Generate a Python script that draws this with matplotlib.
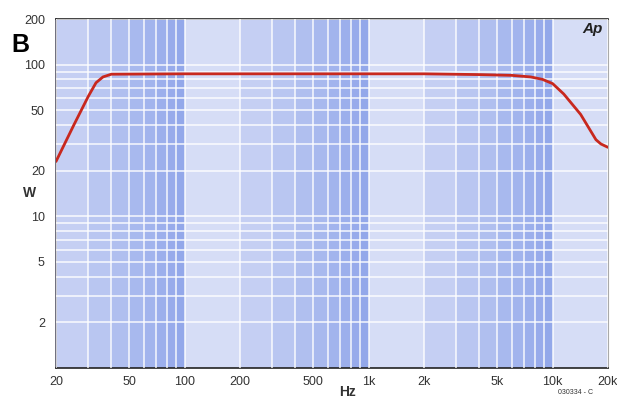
import numpy as np
import matplotlib
matplotlib.use('Agg')
import matplotlib.pyplot as plt
from matplotlib.ticker import FixedLocator, NullFormatter

plt.rcParams['font.family'] = ['Liberation Sans', 'DejaVu Sans']

# curve
freq = [20, 25, 30, 33, 36, 40, 100, 1000, 2000, 4000, 6000, 7600, 8800, 10000, 11500, 14200, 17200, 18300, 20000]
watts = [23, 40, 62, 76, 83, 86.5, 87, 87, 87, 86, 85, 83, 80, 75, 64, 47, 32, 30, 28.5]

x_ticks = [20, 50, 100, 200, 500, 1000, 2000, 5000, 10000, 20000]
x_labels = ['20', '50', '100', '200', '500', '1k', '2k', '5k', '10k', '20k']
y_ticks = [2, 5, 10, 20, 50, 100, 200]
y_labels = ['2', '5', '10', '20', '50', '100', '200']

fig = plt.figure(figsize=(6.17, 3.99), dpi=100)
ax = fig.add_axes([56 / 617, 1 - 368 / 399, 552 / 617, 349 / 399])
ax.set_xscale('log')
ax.set_yscale('log')
ax.set_xlim(20, 20000)
ax.set_ylim(1, 200)

# shaded columns between grid lines, light at start of decade, darker at end
light = np.array([222, 227, 247]) / 255
dark = np.array([145, 166, 234]) / 255
edges = []
for dec in [10, 100, 1000, 10000]:
    for m in range(1, 10):
        v = m * dec
        if 20 <= v <= 20000:
            edges.append(v)
for a, b in zip(edges[:-1], edges[1:]):
    frac = np.log10(np.sqrt(a * b)) % 1
    c = light + (dark - light) * frac ** 1.2
    ax.axvspan(a, b, color=c, lw=0, zorder=0)

ax.xaxis.set_major_locator(FixedLocator(x_ticks))
ax.set_xticklabels(x_labels)
ax.yaxis.set_major_locator(FixedLocator(y_ticks))
ax.set_yticklabels(y_labels)
ax.xaxis.set_minor_formatter(NullFormatter())
ax.yaxis.set_minor_formatter(NullFormatter())
ax.set_axisbelow(False)
ax.grid(True, which='both', color='white', lw=1.1, alpha=0.9)
ax.tick_params(which='both', length=0, labelsize=9, labelcolor='#333333')
ax.tick_params(axis='x', pad=6)
ax.tick_params(axis='y', pad=8)

ax.plot(freq, watts, color='#c8281e', lw=2.0, zorder=3, solid_capstyle='round')

for s in ['top', 'bottom']:
    ax.spines[s].set_color('#222222')
    ax.spines[s].set_linewidth(1.2)
ax.spines['left'].set_color('#555566')
ax.spines['left'].set_linewidth(1.2)
ax.spines['right'].set_color('#aaaaaa')

fig.text(20 / 617, 1 - 45 / 399, 'B', fontsize=18, fontweight='bold', ha='center', va='center')
fig.text(30 / 617, 1 - 193 / 399, 'W', fontsize=10, fontweight='bold', ha='center', va='center', color='#333333')
fig.text(347 / 617, 1 - 392 / 399, 'Hz', fontsize=10, fontweight='bold', ha='center', va='center', color='#333333')
fig.text(575 / 617, 1 - 393 / 399, '030334 - C', fontsize=5, ha='center', va='center', color='#333333')
fig.text(593 / 617, 1 - 29 / 399, 'Ap', fontsize=11, fontweight='bold', style='italic', ha='center', va='center', color='#222222')

fig.savefig('out.png', dpi=100)
